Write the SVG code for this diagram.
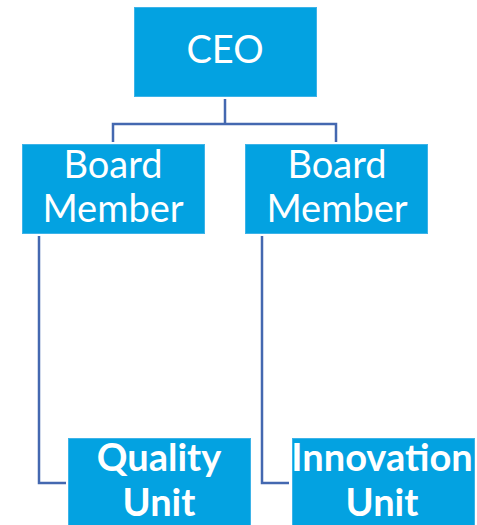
<svg xmlns="http://www.w3.org/2000/svg" width="477" height="525" viewBox="0 0 477 525">
<style>
.box{fill:#03A2E1;stroke:#3DB3E8;stroke-width:1}
.t{fill:#FFFFFF;font-family:Lato,"Liberation Sans",sans-serif;font-size:38px;text-anchor:middle}
.b{font-weight:bold}
.c{fill:none;stroke:#4468B0;stroke-width:2.5}
</style>
<rect width="477" height="525" fill="#FFFFFF"/>
<g id="connectors">
<path class="c" d="M225 99V124M113 142V124H336V142"/>
<path class="c" d="M39 236V483H66"/>
<path class="c" d="M262 236V483H289"/>
</g>
<g id="ceo">
<rect class="box" x="134.5" y="7.5" width="182" height="89"/>
<text class="t" x="225" y="63">CEO</text>
</g>
<g id="board1">
<rect class="box" x="22.5" y="144.5" width="182" height="89"/>
<text class="t" x="113" y="178">Board</text>
<text class="t" x="113" y="222">Member</text>
</g>
<g id="board2">
<rect class="box" x="245.5" y="144.5" width="182" height="89"/>
<text class="t" x="337" y="178">Board</text>
<text class="t" x="337" y="222">Member</text>
</g>
<g id="quality">
<rect class="box" x="68.5" y="438.5" width="182" height="92"/>
<text class="t b" x="159" y="471">Quality</text>
<text class="t b" x="159" y="516">Unit</text>
</g>
<g id="innovation">
<rect class="box" x="292.5" y="438.5" width="182" height="92"/>
<text class="t b" x="382" y="471">Innovation</text>
<text class="t b" x="382" y="516">Unit</text>
</g>
</svg>
